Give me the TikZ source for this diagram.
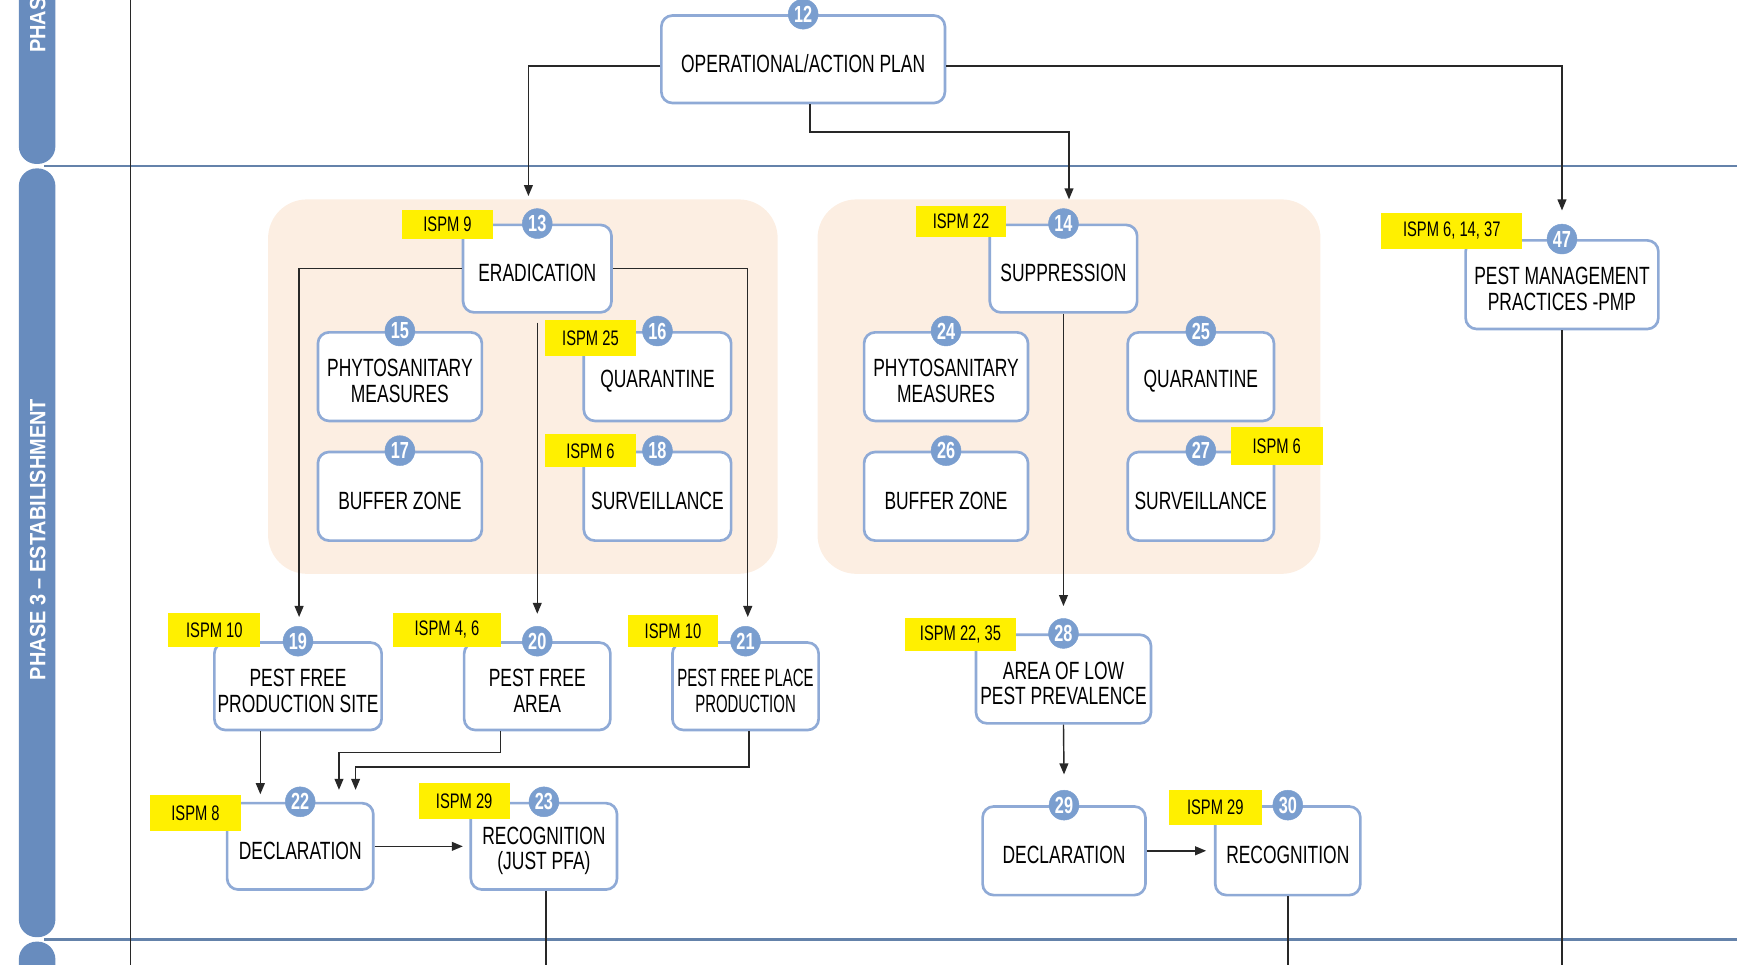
\documentclass[tikz,border=0pt]{standalone}
\usepackage{fontspec}
\setmainfont{Liberation Sans}[FakeStretch=0.70]
\newfontfamily\phasefont{Liberation Sans}[FakeStretch=0.9]
\newfontfamily\narrowfont{Liberation Sans}[FakeStretch=0.60]
\usetikzlibrary{arrows.meta}
\definecolor{boxblue}{RGB}{143,170,214}
\definecolor{numblue}{RGB}{122,158,207}
\definecolor{barblue}{RGB}{104,140,190}
\definecolor{lineblue}{RGB}{100,130,170}
\definecolor{peach}{RGB}{252,238,226}
\definecolor{tagyellow}{RGB}{255,240,0}
\definecolor{conncol}{RGB}{40,40,40}
\tikzset{
 pbox/.style={draw=boxblue, line width=2.4pt, fill=white, rounded corners=10pt, inner sep=0pt},
 boxtext/.style={align=center, inner sep=0pt, font=\fontsize{22.5}{23}\selectfont, text=black},
 numc/.style={circle, fill=numblue, draw=numblue, inner sep=0pt, minimum size=27pt, text=white, font=\bfseries\fontsize{21}{21}\selectfont},
 tagbox/.style={fill=tagyellow, inner sep=0pt, font=\fontsize{19}{19}\selectfont, text=black},
 conn/.style={draw=conncol, line width=1.3pt},
 arr/.style={conn, -{Triangle[length=10pt,width=8pt]}},
 groupbg/.style={fill=peach, rounded corners=35pt},
 phasebar/.style={fill=barblue, rounded corners=16pt},
 phasetext/.style={rotate=90, text=white, inner sep=0pt, font=\phasefont\bfseries\fontsize{20}{20}\selectfont},
}
\newcommand\pnode[7]{%
 \node[pbox, minimum width=#4pt, minimum height=#5pt] (#1) at (#2,#3) {};
 \node[boxtext] (#1t) at ([yshift=-4pt]#1.center) {#7};
 \node[numc] (#1n) at (#1.north) {#6};
}
\newcommand\tagnode[6]{%
 \node[tagbox, minimum width=#4pt, minimum height=#5pt] (#1) at (#2,#3) {#6};
}
\begin{document}
\begin{tikzpicture}[x=1pt,y=-1pt]
\useasboundingbox (0,0) rectangle (1568,871.1);
\clip (0,0) rectangle (1568,871.1);
% phase bars
\fill[phasebar] (17,-40) rectangle (50,148);
\fill[phasebar] (17,152) rectangle (50,846);
\fill[phasebar] (17,850) rectangle (50,920);
\node[phasetext, anchor=west] (ph2) at (34,48) {PHAS};
\node[phasetext] (ph3) at (34,487) {PHASE 3 – ESTABILISHMENT};
% lane lines
\draw[lineblue, line width=2pt] (40,150) -- (1568,150);
\draw[lineblue, line width=2pt] (40,848) -- (1568,848);
\draw[conncol, line width=1.3pt] (118,0) -- (118,871.1);
% group backgrounds
\fill[groupbg] (242,180) rectangle (702,518);
\fill[groupbg] (738,180) rectangle (1192,518);
% boxes
\pnode{n12}{725}{53.5}{256}{79}{12}{OPERATIONAL/ACTION PLAN}
\pnode{n13}{485}{242.5}{134}{79}{13}{ERADICATION}
\pnode{n14}{960}{242.5}{133}{79}{14}{SUPPRESSION}
\pnode{n47}{1410}{257}{174}{80}{47}{PEST MANAGEMENT\\PRACTICES -PMP}
\pnode{n15}{361}{340}{148}{80}{15}{PHYTOSANITARY\\MEASURES}
\pnode{n16}{593.5}{340}{133}{80}{16}{QUARANTINE}
\pnode{n17}{361}{448}{148}{80}{17}{BUFFER ZONE}
\pnode{n18}{593.5}{448}{133}{80}{18}{SURVEILLANCE}
\pnode{n24}{854}{340}{148}{80}{24}{PHYTOSANITARY\\MEASURES}
\pnode{n25}{1084}{340}{132}{80}{25}{QUARANTINE}
\pnode{n26}{854}{448}{148}{80}{26}{BUFFER ZONE}
\pnode{n27}{1084}{448}{132}{80}{27}{SURVEILLANCE}
\pnode{n19}{269}{619.5}{151}{79}{19}{PEST FREE\\PRODUCTION SITE}
\pnode{n20}{485}{619.5}{132}{79}{20}{PEST FREE\\AREA}
\pnode{n21}{673}{619.5}{132}{79}{21}{{\narrowfont PEST FREE PLACE}\\{\narrowfont PRODUCTION}}
\pnode{n28}{960}{613}{158}{80}{28}{AREA OF LOW\\PEST PREVALENCE}
\pnode{n22}{271}{764}{132}{78}{22}{DECLARATION}
\pnode{n23}{491}{764}{132}{78}{23}{RECOGNITION\\(JUST PFA)}
\pnode{n29}{960.5}{768}{147}{80}{29}{DECLARATION}
\pnode{n30}{1162.5}{768}{131}{80}{30}{RECOGNITION}
% ISPM tags
\tagnode{t13}{404}{202.5}{82}{26}{ISPM 9}
\tagnode{t14}{867.5}{200}{81}{28}{ISPM 22}
\tagnode{t47}{1310.5}{208.5}{127}{33}{ISPM 6, 14, 37}
\tagnode{t16}{533}{305}{82}{32}{ISPM 25}
\tagnode{t18}{533}{407}{82}{30}{ISPM 6}
\tagnode{t27}{1152.5}{402.5}{83}{35}{ISPM 6}
\tagnode{t19}{193.5}{568.5}{83}{31}{ISPM 10}
\tagnode{t20}{403.5}{568.5}{97}{31}{ISPM 4, 6}
\tagnode{t21}{607.5}{569.5}{81}{29}{ISPM 10}
\tagnode{t28}{867}{573}{100}{30}{ISPM 22, 35}
\tagnode{t22}{176.5}{734}{83}{32}{ISPM 8}
\tagnode{t23}{419}{723}{82}{32}{ISPM 29}
\tagnode{t30}{1097}{729}{84}{32}{ISPM 29}
% free ends
\coordinate (a13) at (477,177);
\coordinate (a14) at (965,180);
\coordinate (a47) at (1410,190);
\coordinate (a19) at (270,557);
\coordinate (a21) at (675,557);
\coordinate (a22a) at (235,717);
\coordinate (a22b) at (306,713);
\coordinate (a22c) at (321,713);
\coordinate (b47) at (1410,875);
\coordinate (b23) at (493,875);
\coordinate (b30) at (1162.5,875);
% connectors
\draw[arr] ([yshift=-6pt]n12.west) -| (a13);
\draw[arr] ([xshift=6pt]n12.south) -- ++(0,25) -| (a14);
\draw[arr] ([yshift=-6pt]n12.east) -| (a47);
\draw[arr] (n13.west) -| (a19);
\draw[arr] (n13.east) -| (a21);
\draw[arr] ([yshift=-8pt]n13.south) -- ([yshift=11pt]n20n.north);
\draw[arr] (n14.south) -- ([yshift=11pt]n28n.north);
\draw[conn] (n47.south) -- (b47);
\draw[arr] ([xshift=-34pt]n19.south) -- (a22a);
\draw[arr] ([xshift=-33pt]n20.south) -- ++(0,19) -| (a22b);
\draw[arr] ([xshift=3pt]n21.south) -- ++(0,32) -| (a22c);
\draw[arr] (n22.east) -- ([xshift=-6pt]n23.west);
\draw[conn] ([xshift=2pt]n23.south) -- (b23);
\draw[arr] (n28.south) -- ([yshift=14pt]n29n.north);
\draw[arr] (n29.east) -- ([xshift=-7pt]n30.west);
\draw[conn] (n30.south) -- (b30);
\end{tikzpicture}
\end{document}
